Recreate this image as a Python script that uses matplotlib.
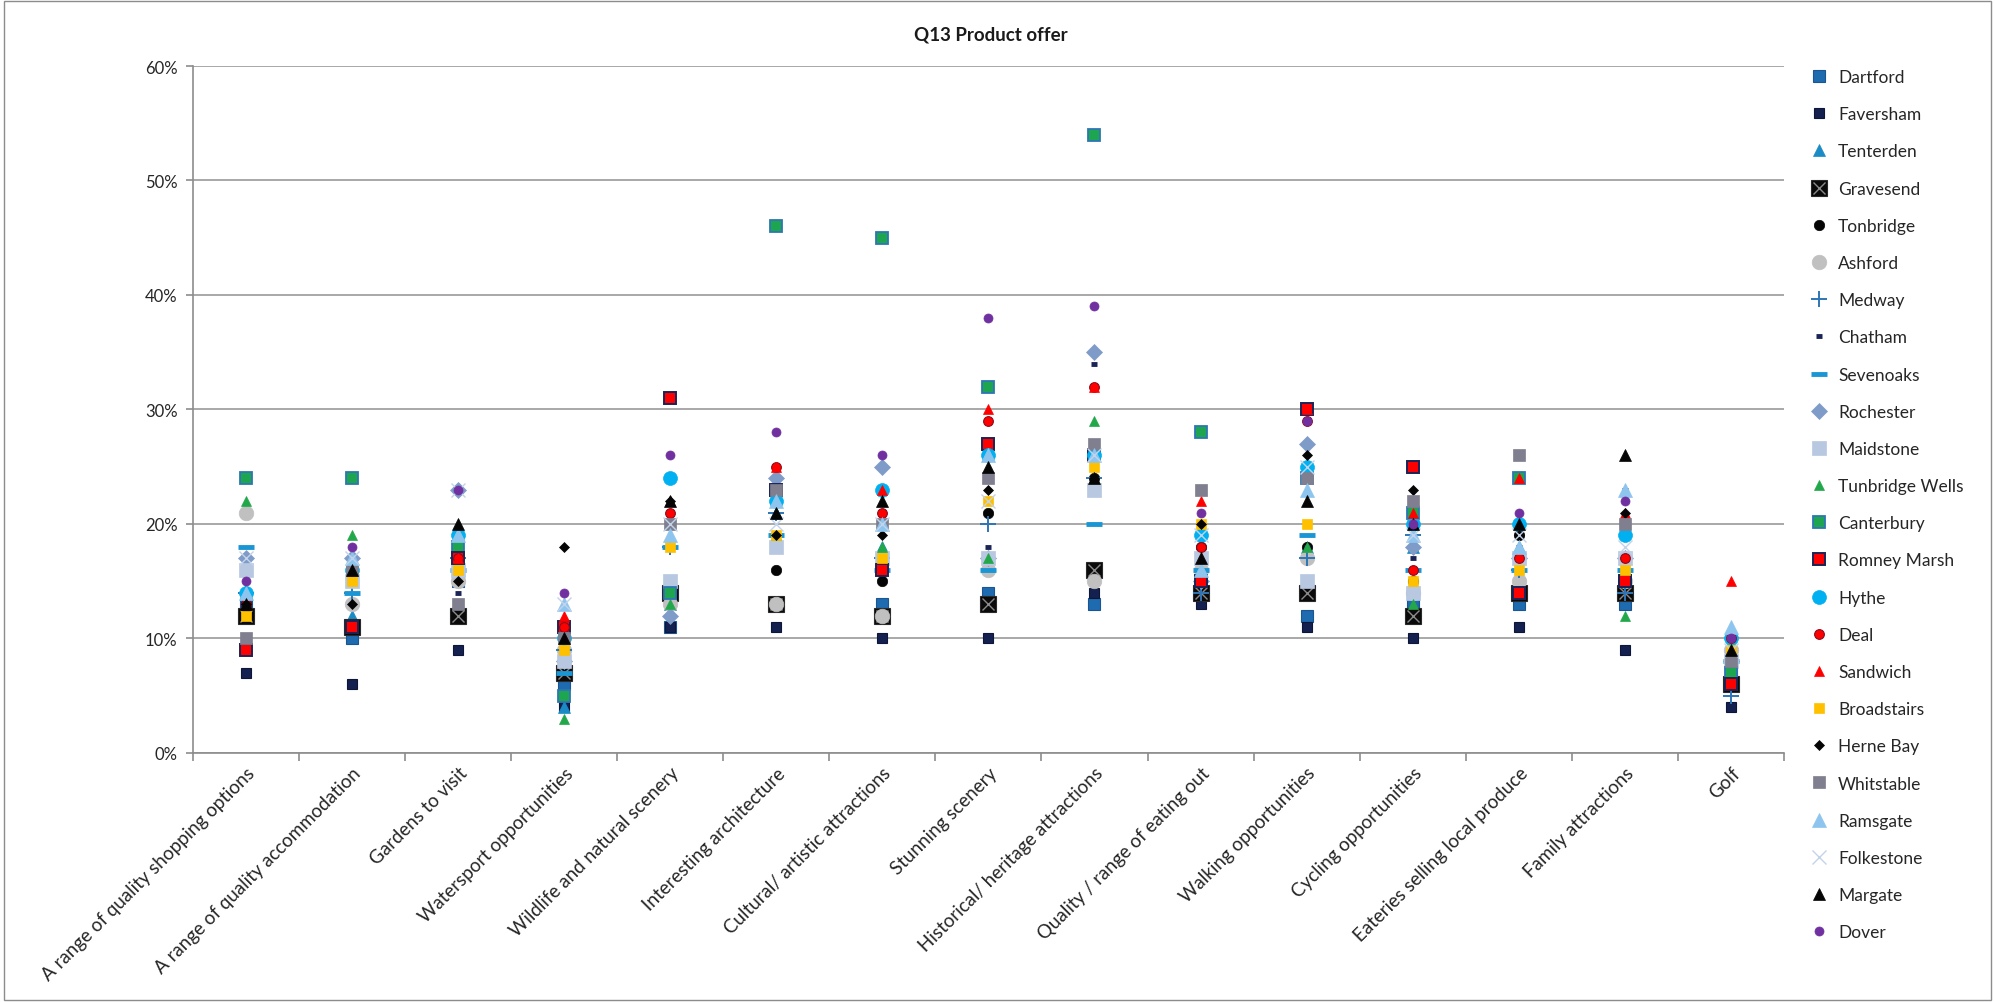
import matplotlib
matplotlib.use("Agg")
import matplotlib.pyplot as plt
from matplotlib.lines import Line2D
from matplotlib.legend_handler import HandlerTuple
from matplotlib.patches import Rectangle
from matplotlib.transforms import ScaledTranslation
import numpy as np

plt.rcParams['font.family'] = ['Lato', 'DejaVu Sans']

categories = [
    "A range of quality shopping options",
    "A range of quality accommodation",
    "Gardens to visit",
    "Watersport opportunities",
    "Wildlife and natural scenery",
    "Interesting architecture",
    "Cultural/ artistic attractions",
    "Stunning scenery",
    "Historical/ heritage attractions",
    "Quality / range of eating out",
    "Walking opportunities",
    "Cycling opportunities",
    "Eateries selling local produce",
    "Family attractions",
    "Golf",
]

# Share of respondents (%) per town, one value per category
dartford        = [13, 10, 15, 6, 11, 13, 13, 14, 13, 14, 12, 13, 13, 13, 7]
faversham       = [7, 6, 9, 4, 11, 11, 10, 10, 14, 13, 11, 10, 11, 9, 4]
tenterden       = [14, 12, 17, 4, 13, 21, 18, 26, 26, 15, 18, 18, 18, 16, 9]
gravesend       = [12, 11, 12, 7, 14, 13, 12, 13, 16, 14, 14, 12, 14, 14, 6]
tonbridge       = [13, 13, 15, 8, 14, 16, 15, 21, 24, 18, 18, 15, 19, 15, 8]
ashford         = [21, 13, 15, 9, 13, 13, 12, 16, 15, 16, 17, 14, 15, 15, 9]
medway          = [14, 14, 17, 9, 18, 21, 17, 20, 24, 14, 17, 19, 16, 14, 5]
chatham         = [14, 15, 14, 10, 15, 19, 17, 18, 34, 17, 18, 17, 18, 23, 7]
sevenoaks       = [18, 14, 16, 7, 18, 19, 16, 16, 20, 16, 19, 16, 16, 16, 8]
rochester       = [17, 17, 23, 8, 12, 24, 25, 17, 35, 15, 27, 18, 17, 17, 8]
maidstone       = [16, 15, 16, 8, 15, 18, 17, 17, 23, 17, 15, 14, 17, 17, 8]
tunbridge_wells = [22, 19, 17, 3, 13, 19, 18, 17, 29, 16, 18, 13, 18, 12, 9]
canterbury      = [24, 24, 18, 5, 14, 46, 45, 32, 54, 28, 24, 21, 24, 15, 7]
romney_marsh    = [9, 11, 17, 11, 31, 23, 16, 27, 26, 15, 30, 25, 14, 15, 6]
hythe           = [14, 16, 19, 10, 24, 22, 23, 26, 26, 19, 25, 20, 20, 19, 10]
deal            = [13, 16, 17, 11, 21, 25, 21, 29, 32, 18, 29, 16, 17, 17, 10]
sandwich        = [13, 17, 17, 12, 22, 25, 23, 30, 32, 22, 30, 21, 24, 21, 15]
broadstairs     = [12, 15, 16, 9, 18, 19, 17, 22, 25, 20, 20, 15, 16, 16, 9]
herne_bay       = [13, 13, 15, 18, 22, 19, 19, 23, 24, 20, 26, 23, 19, 21, 8]
whitstable      = [10, 16, 13, 10, 20, 23, 20, 24, 27, 23, 24, 22, 26, 20, 8]
ramsgate        = [14, 17, 19, 13, 19, 22, 20, 26, 26, 16, 23, 19, 18, 23, 11]
folkestone      = [17, 17, 23, 13, 20, 20, 20, 22, 26, 19, 25, 19, 19, 18, 9]
margate         = [13, 16, 20, 10, 22, 21, 22, 25, 24, 17, 22, 20, 20, 26, 9]
dover           = [15, 18, 23, 14, 26, 28, 26, 38, 39, 21, 29, 20, 21, 22, 10]

# name, values, list of marker layers (marker, size, face, edge, edge width)
series = [
    ("Dartford", dartford, [("s", 8, "#1F6BAF", "#1B5592", 0.8)]),
    ("Faversham", faversham, [("s", 7, "#14204F", "#0E1638", 0.8)]),
    ("Tenterden", tenterden, [("^", 9, "#1A8BC4", "#1A8BC4", 0.5)]),
    ("Gravesend", gravesend, [("s", 11, "#0A0A0A", "#2A2A2A", 0.8),
                              ("x", 9, "#8A8A8A", "#8A8A8A", 1.0)]),
    ("Tonbridge", tonbridge, [("o", 7.5, "#050505", "#050505", 0.5)]),
    ("Ashford", ashford, [("o", 10.5, "#C0C0C0", "#C0C0C0", 0.5)]),
    ("Medway", medway, [("+", 11, "#2E75B6", "#2E75B6", 1.4)]),
    ("Chatham", chatham, [("_", 5, "#1A2456", "#1A2456", 3.5)]),
    ("Sevenoaks", sevenoaks, [("_", 11.5, "#1A96D4", "#1A96D4", 3.5)]),
    ("Rochester", rochester, [("D", 8, "#7F9CC9", "#7F9CC9", 0.5)]),
    ("Maidstone", maidstone, [("s", 10.5, "#B7C8E0", "#B7C8E0", 0.5)]),
    ("Tunbridge Wells", tunbridge_wells, [("^", 6.5, "#22A84A", "#22A84A", 0.5)]),
    ("Canterbury", canterbury, [("s", 8.5, "#1DA64F", "#2E75B6", 1.3)]),
    ("Romney Marsh", romney_marsh, [("s", 8.5, "#FF0000", "#1A2456", 1.4)]),
    ("Hythe", hythe, [("o", 10, "#00B0F0", "#00B0F0", 0.5)]),
    ("Deal", deal, [("o", 7, "#FF0000", "#8B0A1A", 0.8)]),
    ("Sandwich", sandwich, [("^", 6.5, "#FF0000", "#FF0000", 0.5)]),
    ("Broadstairs", broadstairs, [("s", 7, "#FFC000", "#FFC000", 0.5)]),
    ("Herne Bay", herne_bay, [("D", 5, "#050505", "#050505", 0.5)]),
    ("Whitstable", whitstable, [("s", 8, "#7F7F8F", "#7F7F8F", 0.5)]),
    ("Ramsgate", ramsgate, [("^", 10.5, "#8EC5EE", "#8EC5EE", 0.5)]),
    ("Folkestone", folkestone, [("x", 10, "#C3D3EA", "#C3D3EA", 1.0)]),
    ("Margate", margate, [("^", 8.5, "#050505", "#050505", 0.5)]),
    ("Dover", dover, [("o", 6.5, "#7030A0", "#7030A0", 0.5)]),
]

fig = plt.figure(figsize=(19.95, 10.03), dpi=100)
ax = fig.add_axes([0.0967, 0.2483, 0.7975, 0.6849])

x = np.arange(1, len(categories) + 1)

handles = []
labels = []
for z, (name, vals, layers) in enumerate(series):
    y = np.array(vals) / 100.0
    parts = []
    for (m, ms, fc, ec, ew) in layers:
        filled = m not in ("+", "x", "_")
        ax.plot(x, y, linestyle="none", marker=m, markersize=ms,
                markerfacecolor=fc if filled else "none",
                markeredgecolor=ec, markeredgewidth=ew,
                zorder=3 + z * 0.01, clip_on=False)
        parts.append(Line2D([], [], linestyle="none", marker=m, markersize=ms,
                            markerfacecolor=fc if filled else "none",
                            markeredgecolor=ec, markeredgewidth=ew))
    handles.append(tuple(parts) if len(parts) > 1 else parts[0])
    labels.append(name)

ax.set_xlim(0.5, len(categories) + 0.5)
ax.set_ylim(0, 0.60)
ax.set_yticks(np.arange(0, 0.61, 0.10))
ax.set_yticklabels([f"{int(round(v * 100))}%" for v in np.arange(0, 0.61, 0.10)],
                   fontsize=12, color="#262626")
ax.yaxis.grid(True, color="#9A9A9A", linewidth=1.2)
ax.set_axisbelow(True)

ax.set_xticks(x)
ax.set_xticklabels(categories, rotation=45, ha="right", va="top",
                   rotation_mode="anchor", fontsize=13.5, color="#262626")
shift = ScaledTranslation(10 / 100, 0, fig.dpi_scale_trans)
for lbl in ax.get_xticklabels():
    lbl.set_transform(lbl.get_transform() + shift)
ax.set_xticks(np.arange(0.5, len(categories) + 1, 1.0), minor=True)
ax.tick_params(axis="x", which="major", length=0, pad=8)
ax.tick_params(axis="x", which="minor", length=6, color="#8C8C8C", width=1.2)
ax.tick_params(axis="y", length=5, color="#8C8C8C", width=1.2, pad=6)

for side in ("top", "right"):
    ax.spines[side].set_visible(False)
for side in ("left", "bottom"):
    ax.spines[side].set_color("#8C8C8C")
    ax.spines[side].set_linewidth(1.2)

fig.text(0.4965, 0.965, "Q13 Product offer", ha="center", va="center",
         fontsize=13.5, fontweight="bold", color="#1A1A1A")

leg = fig.legend(handles, labels, loc="upper left",
                 bbox_to_anchor=(0.903, 0.937), frameon=False,
                 fontsize=12.5, labelspacing=1.22, handlelength=1.2,
                 handletextpad=0.5, borderaxespad=0,
                 handler_map={tuple: HandlerTuple(ndivide=1, pad=0)})
for t in leg.get_texts():
    t.set_color("#262626")

# outer chart border
fig.patches.append(Rectangle((0.002, 0.002), 0.996, 0.996, transform=fig.transFigure,
                             fill=False, edgecolor="#8C8C8C", linewidth=1.0))

fig.savefig("out.png", dpi=100)
